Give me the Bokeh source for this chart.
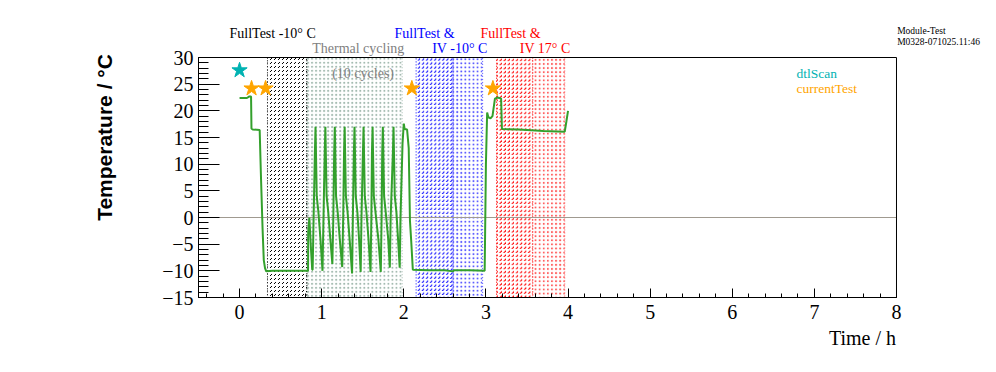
from bokeh.plotting import figure
from bokeh.models import Range1d, FixedTicker, Label
from bokeh.embed import file_html
from bokeh.resources import INLINE

# ---------------- data ----------------
time_h = [0.00, 0.09, 0.12, 0.14, 0.145, 0.16, 0.245, 0.26, 0.28, 0.295, 0.31, 0.325,
          0.40, 0.60, 0.825, 0.834, 0.836, 0.85, 0.87, 0.885,
          0.89, 0.902, 0.917, 0.925, 0.94, 0.96, 0.985,
          1.01, 1.022, 1.037, 1.045, 1.06, 1.08, 1.105,
          1.13, 1.142, 1.152, 1.16, 1.175, 1.195, 1.22,
          1.25, 1.262, 1.272, 1.28, 1.295, 1.315, 1.34,
          1.37, 1.38, 1.392, 1.40, 1.415, 1.435, 1.455,
          1.475, 1.485, 1.502, 1.51, 1.525, 1.545, 1.57,
          1.595, 1.605, 1.612, 1.62, 1.635, 1.655, 1.69,
          1.72, 1.73, 1.737, 1.745, 1.76, 1.78, 1.81,
          1.83, 1.84, 1.867, 1.875, 1.89, 1.91, 1.93,
          1.95, 1.96, 1.985, 2.00, 2.01, 2.04, 2.06, 2.075, 2.09, 2.11,
          2.30, 2.50, 2.60, 2.61, 2.80, 2.985,
          3.00, 3.015, 3.03, 3.056, 3.08, 3.11, 3.14, 3.185, 3.195,
          3.40, 3.60, 3.70, 3.96, 3.98, 4.00]
temp_c = [22.4, 22.4, 22.7, 22.7, 16.7, 16.5, 16.4, 8.0, -2.0, -8.0, -9.5, -10.1,
          -10.0, -10.0, -10.0, -10.0, -2.8, 0.0, -6.0, -9.8,
          -9.8, 0.0, 12.0, 17.0, 4.0, 1.0, -4.0,
          -10.0, 0.0, 12.0, 17.0, 4.0, 1.0, -4.0,
          -8.7, 0.0, 12.0, 17.0, 4.0, 1.0, -4.0,
          -9.3, 0.0, 12.0, 17.0, 4.0, 1.0, -4.0,
          -10.5, 0.0, 12.0, 17.0, 4.0, 1.0, -4.0,
          -10.2, 0.0, 12.0, 17.0, 4.0, 1.0, -4.0,
          -10.2, 0.0, 12.0, 17.0, 4.0, 1.0, -4.0,
          -10.2, 0.0, 12.0, 17.0, 4.0, 1.0, -4.0,
          -9.4, 0.0, 12.0, 17.0, 4.0, 1.0, -4.0,
          -9.4, 0.0, 14.0, 17.6, 16.6, 16.5, 13.0, -0.6, -4.3, -9.8,
          -9.9, -9.9, -10.1, -9.9, -9.9, -10.0,
          10.0, 19.7, 18.8, 18.6, 19.0, 22.3, 22.5, 22.3, 16.6,
          16.5, 16.3, 16.2, 16.1, 18.0, 20.0]

dtl_time = [0.0]
dtl_temp = [27.6]
cur_time = [0.146, 0.317, 2.098, 3.085]
cur_temp = [24.2, 24.2, 24.2, 24.2]

region_start = [0.34, 0.82, 2.15, 2.60, 3.13, 3.57]
region_end = [0.82, 1.98, 2.60, 2.96, 3.57, 3.96]
region_color = ["black", "#a3bab0", "blue", "#5c5cff", "red", "#ff5c5c"]
region_pattern = [",", ".", ",", ".", ",", "."]

x_ticks = [0, 1, 2, 3, 4, 5, 6, 7, 8]
x_minor = [round(-0.4 + 0.2 * i, 2) for i in range(43)]
y_ticks = [-15, -10, -5, 0, 5, 10, 15, 20, 25, 30]
y_minor = list(range(-15, 31))

X_MIN, X_MAX = -0.5, 8.0
Y_MIN, Y_MAX = -15.0, 30.0

# visible range of the canvas (frame covers the whole canvas, axes are fixed inside it)
VIEW_X = (-2.9112, 9.2178)
VIEW_Y = (-29.0625, 40.6875)

# ---------------- figure ----------------
p = figure(width=996, height=372, output_backend="svg", toolbar_location=None,
           x_range=Range1d(*VIEW_X), y_range=Range1d(*VIEW_Y),
           min_border=0)
p.background_fill_color = "white"
p.border_fill_color = "white"
p.outline_line_color = None
p.grid.visible = False

SERIF = "Liberation Serif"

# axes
p.xaxis.ticker = FixedTicker(ticks=x_ticks, minor_ticks=x_minor)
p.yaxis.ticker = FixedTicker(ticks=y_ticks, minor_ticks=y_minor)
p.xaxis.fixed_location = Y_MIN
p.yaxis.fixed_location = X_MIN
p.xaxis.bounds = (X_MIN, X_MAX)
p.yaxis.bounds = (Y_MIN, Y_MAX)
for ax in (p.xaxis[0], p.yaxis[0]):
    ax.axis_line_color = "black"
    ax.major_tick_line_color = "black"
    ax.minor_tick_line_color = "black"
    ax.major_tick_out = 0
    ax.minor_tick_out = 0
    ax.major_label_text_font = SERIF
    ax.major_label_text_font_size = "20px"
    ax.major_label_text_color = "black"
p.xaxis.major_tick_in = 9
p.xaxis.minor_tick_in = 4
p.yaxis.major_tick_in = 21
p.yaxis.minor_tick_in = 10
p.xaxis.major_label_standoff = 7
p.yaxis.major_label_standoff = 5

# hatched regions (one glyph per region; a slightly different scale per region keeps
# each hatch pattern distinct so it is drawn in its own colour)
for i, (l, r, c, pat) in enumerate(zip(region_start, region_end, region_color, region_pattern)):
    p.quad(left=[l], right=[r], top=[Y_MAX], bottom=[Y_MIN],
           fill_alpha=0, hatch_pattern=pat, hatch_color=c, hatch_scale=4 + 0.02 * i,
           hatch_weight=1 + 0.01 * i, line_color=c, line_dash="1 2", line_width=1)

# zero line
p.segment(x0=[X_MIN], y0=[0], x1=[X_MAX], y1=[0], line_color="#a09a90", line_width=1)

# temperature curve
p.line(time_h, temp_c, line_color="#33a02c", line_width=2)

# markers
p.scatter(dtl_time, dtl_temp, marker="star", size=16, fill_color="#00b2b2", line_color="#00b2b2")
p.scatter(cur_time, cur_temp, marker="star", size=16, fill_color="#ffa500", line_color="#ffa500")

# frame box (top and right edges)
p.quad(left=[X_MIN], right=[X_MAX], top=[Y_MAX], bottom=[Y_MIN],
       fill_color=None, line_color="black", line_width=1)

# annotations
texts = [
    ("FullTest -10° C", -0.1225, 34.5, "black", 14, "left"),
    ("Thermal cycling", 0.8846, 31.63, "#808080", 14, "left"),
    ("(10 cycles)", 1.128, 27.0, "#808080", 14, "left"),
    ("FullTest &", 1.887, 34.5, "blue", 14, "left"),
    ("IV -10° C", 2.346, 31.63, "blue", 14, "left"),
    ("FullTest &", 2.934, 34.5, "red", 14, "left"),
    ("IV 17° C", 3.413, 31.63, "red", 14, "left"),
    ("Module-Test", 8.008, 35.06, "black", 9.5, "left"),
    ("M0328-071025.11:46", 8.008, 32.87, "black", 9.5, "left"),
    ("dtlScan", 6.782, 26.94, "#00b2b2", 13.5, "left"),
    ("currentTest", 6.782, 24.13, "#ffa500", 13.5, "left"),
    ("Time / h", 7.994, -22.6, "black", 20, "right"),
]
for t, x, y, c, s, al in texts:
    p.add_layout(Label(x=x, y=y, text=t, text_color=c, text_font_size=f"{s}px",
                       text_font=SERIF, text_align=al, text_baseline="alphabetic"))

p.add_layout(Label(x=-1.645, y=15.0, text="Temperature / °C", text_color="black",
                   text_font_size="21px", text_font="Liberation Sans", text_font_style="bold",
                   text_align="center", text_baseline="middle", angle=1.5707963))

open("out.html", "w").write(file_html(p, INLINE))
